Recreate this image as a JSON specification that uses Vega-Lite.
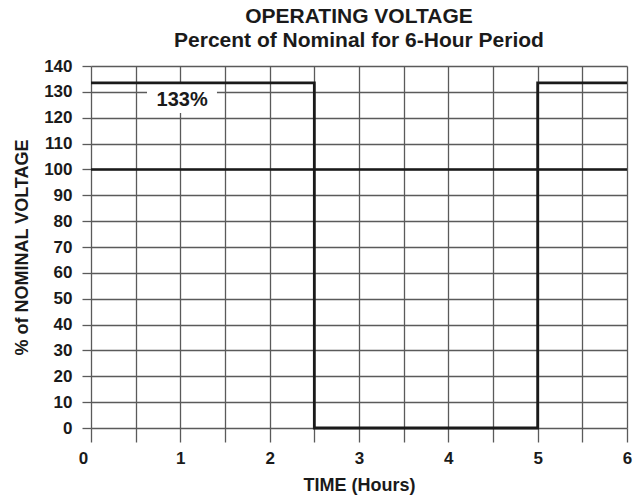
{
  "$schema": "https://vega.github.io/schema/vega-lite/v6.json",
  "width": 536,
  "height": 362,
  "autosize": {"type": "none"},
  "padding": {"left": 91, "top": 66, "right": 14, "bottom": 68},
  "background": "white",
  "config": {
    "font": "Liberation Sans",
    "view": {"stroke": null},
    "axis": {
      "gridColor": "#5a5a5a",
      "gridWidth": 1.3,
      "gridOpacity": 1,
      "domain": false,
      "tickColor": "#5a5a5a",
      "tickWidth": 1.3,
      "labelFont": "Liberation Sans",
      "labelFontSize": 17,
      "labelFontWeight": "bold",
      "labelColor": "#1a1a1a",
      "labelOverlap": false,
      "labelFlush": false,
      "titleFont": "Liberation Sans",
      "titleFontSize": 18,
      "titleFontWeight": "bold",
      "titleColor": "#1a1a1a"
    }
  },
  "title": {
    "text": ["OPERATING VOLTAGE", "Percent of Nominal for 6-Hour Period"],
    "font": "Liberation Sans",
    "fontSize": 21,
    "fontWeight": "bold",
    "color": "#1a1a1a",
    "lineHeight": 24,
    "anchor": "middle",
    "offset": 6
  },
  "datasets": {
    "step": [
      {"i": 0, "hours": 0, "pct": 133.5},
      {"i": 1, "hours": 2.5, "pct": 133.5},
      {"i": 2, "hours": 2.5, "pct": 0},
      {"i": 3, "hours": 5, "pct": 0},
      {"i": 4, "hours": 5, "pct": 133.5},
      {"i": 5, "hours": 6, "pct": 133.5}
    ],
    "nominal": [
      {"i": 0, "hours": 0, "pct": 100},
      {"i": 1, "hours": 6, "pct": 100}
    ],
    "label": [
      {"hours": 0.627, "hours2": 1.41, "pct": 121.8, "pct2": 133, "text": "133%"}
    ],
    "labelText": [
      {"hours": 1.02, "pct": 126.9, "text": "133%"}
    ]
  },
  "encoding": {
    "x": {
      "field": "hours", "type": "quantitative",
      "scale": {"domain": [0, 6], "nice": false, "zero": false},
      "axis": {
        "values": [0, 0.5, 1, 1.5, 2, 2.5, 3, 3.5, 4, 4.5, 5, 5.5, 6],
        "labelExpr": "datum.value % 1 == 0 ? format(datum.value, 'd') : ''",
        "labelOffset": {"condition": {"test": "datum.value == 0", "value": -8}, "value": 0},
        "tickSize": 14,
        "labelPadding": 8,
        "title": "TIME (Hours)",
        "titleBaseline": "alphabetic",
        "titleY": 62
      }
    },
    "y": {
      "field": "pct", "type": "quantitative",
      "scale": {"domain": [0, 140], "nice": false},
      "axis": {
        "values": [0, 10, 20, 30, 40, 50, 60, 70, 80, 90, 100, 110, 120, 130, 140],
        "format": "d",
        "tickSize": 9,
        "labelPadding": 10,
        "title": "% of NOMINAL VOLTAGE",
        "titleBaseline": "alphabetic",
        "titleAlign": "center",
        "titleX": -64,
        "titleY": 181
      }
    }
  },
  "layer": [
    {
      "data": {"name": "label"},
      "mark": {"type": "rect", "color": "white"},
      "encoding": {
        "x2": {"field": "hours2"},
        "y2": {"field": "pct2"}
      }
    },
    {
      "data": {"name": "labelText"},
      "mark": {"type": "text", "fontSize": 20, "fontWeight": "bold", "color": "#1a1a1a", "baseline": "middle", "align": "center", "font": "Liberation Sans"},
      "encoding": {
        "text": {"field": "text"}
      }
    },
    {
      "data": {"name": "nominal"},
      "mark": {"type": "line", "color": "#1a1a1a", "strokeWidth": 2.6},
      "encoding": {
        "order": {"field": "i"}
      }
    },
    {
      "data": {"name": "step"},
      "mark": {"type": "line", "color": "#1a1a1a", "strokeWidth": 2.8, "strokeJoin": "miter"},
      "encoding": {
        "order": {"field": "i"}
      }
    }
  ]
}
